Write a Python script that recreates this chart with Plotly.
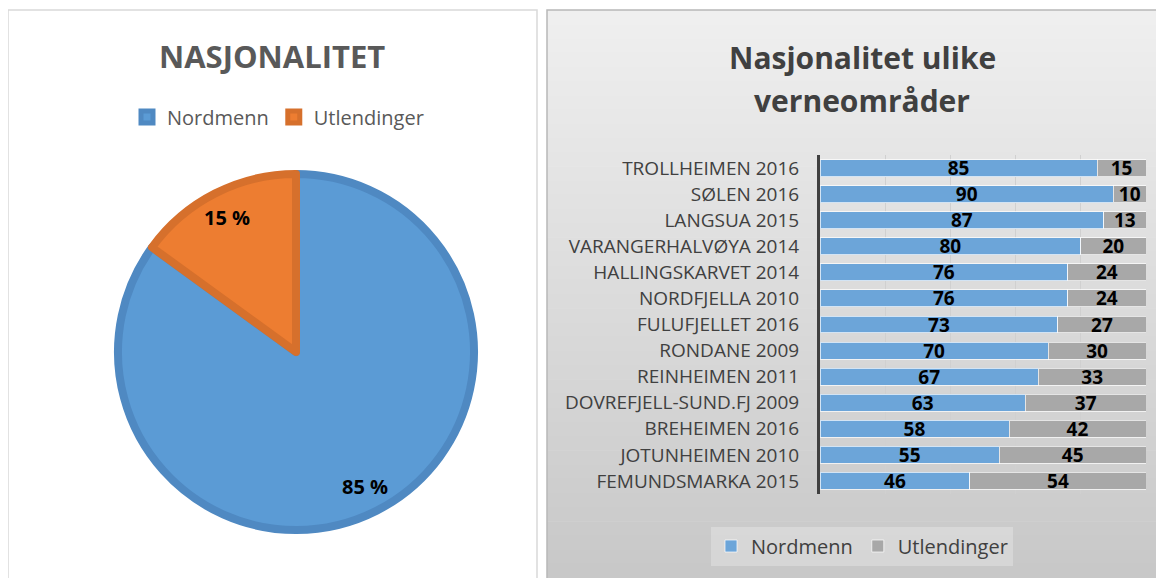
import math
import plotly.graph_objects as go

# ---- data ----
pie_labels = ["Nordmenn", "Utlendinger"]
pie_values = [85, 15]

areas = ["TROLLHEIMEN 2016", "SØLEN 2016", "LANGSUA 2015", "VARANGERHALVØYA 2014",
         "HALLINGSKARVET 2014", "NORDFJELLA 2010", "FULUFJELLET 2016", "RONDANE 2009",
         "REINHEIMEN 2011", "DOVREFJELL-SUND.FJ 2009", "BREHEIMEN 2016",
         "JOTUNHEIMEN 2010", "FEMUNDSMARKA 2015"]
nordmenn = [85, 90, 87, 80, 76, 76, 73, 70, 67, 63, 58, 55, 46]
utlendinger = [15, 10, 13, 20, 24, 24, 27, 30, 33, 37, 42, 45, 54]

# page has an 8px body margin: figure origin sits at (8, 8) of the window
OX, OY = 8, 8
W, H = 1156, 570
def px(x):
    return (x - OX) / W
def py(y):
    return 1 - (y - OY) / H

fig = go.Figure()

# pie geometry (window pixels)
pcx, pcy, pr = 296, 352, 178
fig.add_trace(go.Pie(
    labels=pie_labels, values=pie_values, sort=False, direction="clockwise", rotation=0,
    marker=dict(colors=["#5b9bd5", "#ed7d31"], line=dict(color=["#4f89c2", "#d6702c"], width=8)),
    textinfo="none",
    domain=dict(x=[px(pcx - pr), px(pcx + pr)], y=[py(pcy + pr), py(pcy - pr)]),
    legend="legend", hoverinfo="label+value",
))

bar_style = dict(orientation="h", textposition="inside", insidetextanchor="middle",
                 textangle=0, constraintext="none",
                 textfont=dict(family="Open Sans", size=19, color="black", weight="bold"),
                 xaxis="x", yaxis="y", legend="legend2")
fig.add_trace(go.Bar(y=areas, x=nordmenn, name="Nordmenn", text=nordmenn,
                     marker=dict(color="#6ca5d9", line=dict(color="rgba(255,255,255,0.7)", width=1)),
                     **bar_style))
fig.add_trace(go.Bar(y=areas, x=utlendinger, name="Utlendinger", text=utlendinger,
                     marker=dict(color="#a8a8a8", line=dict(color="rgba(255,255,255,0.7)", width=1)),
                     **bar_style))

# background panels
shapes = []
x0r, x1r, y0r, y1r = 547, 1164, 10, 578
n = 40
c_top, c_bot = 240, 199
for i in range(n):
    ya = y0r + (y1r - y0r) * i / n
    yb = y0r + (y1r - y0r) * (i + 1) / n
    c = round(c_top + (c_bot - c_top) * (i + 0.5) / n)
    shapes.append(dict(type="rect", xref="paper", yref="paper", layer="below",
                       x0=px(x0r), x1=px(x1r) + 0.01, y0=py(yb) - 0.001, y1=py(ya),
                       fillcolor=f"rgb({c},{c},{c})", line=dict(width=0)))
shapes.append(dict(type="rect", xref="paper", yref="paper", layer="below",
                   x0=px(x0r), x1=px(x1r) + 0.01, y0=py(590), y1=py(y0r),
                   fillcolor="rgba(0,0,0,0)", line=dict(color="#b8b8b8", width=1.5)))
shapes.append(dict(type="rect", xref="paper", yref="paper", layer="below",
                   x0=px(8), x1=px(537), y0=py(590), y1=py(10),
                   fillcolor="white", line=dict(color="#d9d9d9", width=1.5)))

# pie labels placed from the pie values
annotations = []
total = sum(pie_values)
cum = 0
for v in pie_values:
    mid = (cum + v / 2) / total * 2 * math.pi
    cum += v
    lx = pcx + 0.85 * pr * math.sin(mid)
    ly = pcy - 0.85 * pr * math.cos(mid)
    annotations.append(dict(text=f"{v} %", x=px(lx), y=py(ly), xref="paper", yref="paper",
                            xanchor="center", yanchor="middle", showarrow=False,
                            font=dict(family="Open Sans", size=20, color="black", weight="bold")))

annotations += [
    dict(text="NASJONALITET", x=px(272), y=py(56), xref="paper", yref="paper",
         xanchor="center", yanchor="middle", showarrow=False,
         font=dict(family="Open Sans", size=31, color="#595959", weight="bold")),
    dict(text="Nasjonalitet ulike", x=px(862), y=py(57), xref="paper", yref="paper",
         xanchor="center", yanchor="middle", showarrow=False,
         font=dict(family="Open Sans", size=30, color="#404040", weight="bold")),
    dict(text="verneområder", x=px(862), y=py(100), xref="paper", yref="paper",
         xanchor="center", yanchor="middle", showarrow=False,
         font=dict(family="Open Sans", size=30, color="#404040", weight="bold")),
]

fig.update_layout(
    width=W, height=H, margin=dict(l=0, r=0, t=0, b=0, autoexpand=False),
    paper_bgcolor="white", plot_bgcolor="rgba(0,0,0,0)",
    barmode="stack", bargap=0.35,
    shapes=shapes, annotations=annotations,
    xaxis=dict(domain=[px(820), px(1146)], range=[0, 100], dtick=20, showticklabels=False,
               showgrid=True, gridcolor="#d0d0d0", gridwidth=1, zeroline=False, fixedrange=True),
    yaxis=dict(domain=[py(494), py(155)], autorange="reversed", showline=True, linecolor="#404040",
               linewidth=3, ticks="", ticklabelstandoff=14, automargin=False,
               tickfont=dict(family="Open Sans", size=19, color="#404040")),
    legend=dict(orientation="h", x=px(278), xanchor="center", y=py(117), yanchor="middle",
                font=dict(family="Open Sans", size=20, color="#595959"), bgcolor="rgba(0,0,0,0)",
                itemclick=False),
    legend2=dict(orientation="h", x=px(862), xanchor="center", y=py(546), yanchor="middle",
                 traceorder="normal",
                 font=dict(family="Open Sans", size=20, color="#404040"),
                 bgcolor="rgba(255,255,255,0.25)", itemclick=False),
    uniformtext=dict(minsize=19, mode="show"),
)

fig.write_html("out.html")
